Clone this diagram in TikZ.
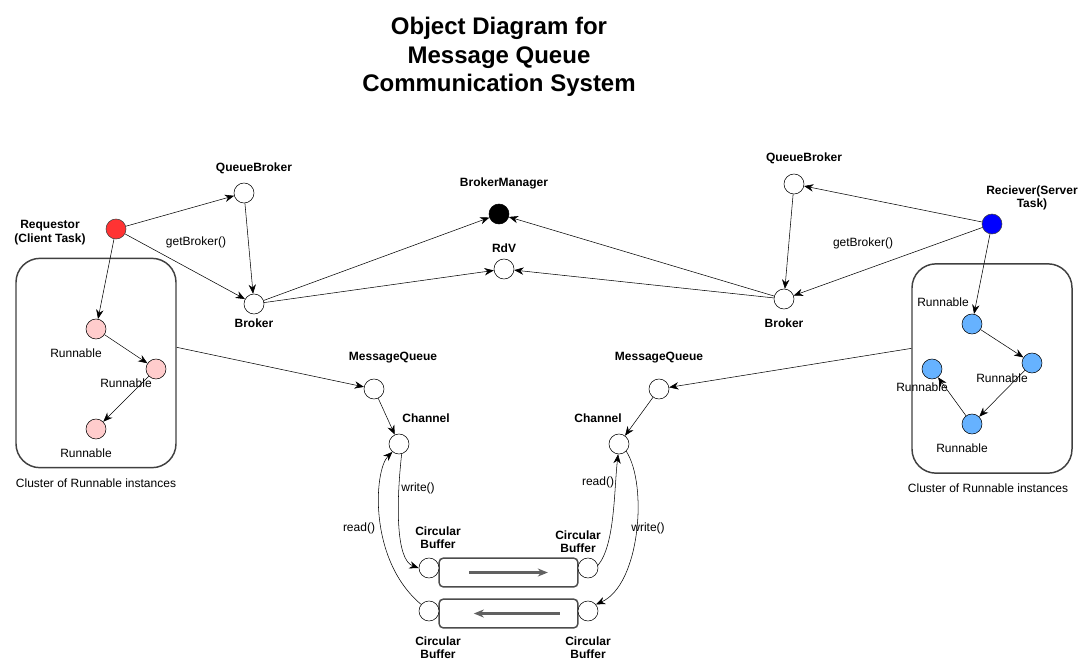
\documentclass[tikz,border=0pt]{standalone}
\usepackage{fontspec}
\setmainfont{Liberation Sans}
\usetikzlibrary{
  arrows.meta,
  positioning,  % relative placement
}
\definecolor{reqred}{HTML}{FF3333}
\definecolor{reqpink}{HTML}{FFCCCC}
\definecolor{srvblue}{HTML}{0000FF}
\definecolor{srvlight}{HTML}{66B2FF}
\def\mylblfont{\fontsize{9}{10}\selectfont}
\tikzset{
  x=0.75pt,
  y=-0.75pt,
  line width=0.9pt,
  >={Stealth[length=7pt,width=5.5pt]},
  my obj/.style={
    circle,
    draw,
    fill=white,
    minimum size=15pt,
    inner sep=0pt
  },
  my name/.style={
    font=\mylblfont\bfseries,
    align=center,
    inner sep=0pt
  },
  my text/.style={
    font=\mylblfont,
    align=center,
    inner sep=0pt
  },
  my cluster/.style={
    draw=black!75,
    line width=1.1pt,
    rounded corners=18pt,
    minimum width=120pt,
    minimum height=157pt
  },
  my buffer/.style={
    draw=black!70,
    line width=1.1pt,
    rounded corners=3pt,
    minimum width=104pt,
    minimum height=21.5pt
  },
  my flow/.style={
    draw=black!62,
    line width=1.6pt,
    -{Stealth[length=7.5pt,width=6pt]}
  }
}

\begin{document}
\begin{tikzpicture}
\useasboundingbox (0,0) rectangle (1084,665);
% title
\node[font=\fontsize{18}{21.5}\selectfont\bfseries,align=center] (title) at (499,57)
  {Object Diagram for\\Message Queue\\Communication System};

% clusters
\node[my cluster] (clL) at (96,363)    {};
\node[my cluster] (clR) at (992,368.5) {};
\node[my text] (clL-t) at (96,483)  {Cluster of Runnable instances};
\node[my text] (clR-t) at (988,488) {Cluster of Runnable instances};

% objects
\node[my obj,fill=reqred,draw=black!75]  (req) at (116,229) {};
\node[my obj]                            (qbL) at (244,193) {};
\node[my obj]                            (brL) at (254,304) {};
\node[my obj,fill=black]                 (bm)  at (499,214) {};
\node[my obj]                            (rdv) at (504,269) {};
\node[my obj]                            (qbR) at (794,184) {};
\node[my obj,fill=srvblue,draw=black!75] (rcv) at (992,224) {};
\node[my obj]                            (brR) at (784,299) {};
\node[my obj,fill=reqpink]  (rL1) at (96,329)   {};
\node[my obj,fill=reqpink]  (rL2) at (156,369)  {};
\node[my obj,fill=reqpink]  (rL3) at (96,429)   {};
\node[my obj,fill=srvlight] (rR1) at (972,324)  {};
\node[my obj,fill=srvlight] (rR2) at (1032,363) {};
\node[my obj,fill=srvlight] (rR3) at (972,424)  {};
\node[my obj,fill=srvlight] (rR4) at (932,369)  {};
\node[my obj] (mqL) at (374,389) {};
\node[my obj] (chL) at (399,444) {};
\node[my obj] (mqR) at (659,389) {};
\node[my obj] (chR) at (619,444) {};

% circular buffers
\node[my buffer] (bufT) at (508.5,572.5) {};
\node[my buffer] (bufB) at (508.5,613.5) {};
\node[my obj] (cbTL) at (429,568) {};
\node[my obj] (cbTR) at (588,568) {};
\node[my obj] (cbBL) at (429,611) {};
\node[my obj] (cbBR) at (588,611) {};
\draw[my flow] ([xshift=-29.5pt]bufT.center) -- ([xshift=29.5pt]bufT.center);
\draw[my flow] ([xshift=38.5pt]bufB.center) -- ([xshift=-26pt]bufB.center);

% names
\node[my name] (req-t) at (50,232.5) {Requestor\\(Client Task)};
\node[my name] (qbL-t) at (254,168)  {QueueBroker};
\node[my name] (brL-t) at (254,323)  {Broker};
\node[my name] (bm-t)  at (504,183)  {BrokerManager};
\node[my name] (rdv-t) at (504,248)  {RdV};
\node[my name] (qbR-t) at (804,158)  {QueueBroker};
\node[my name] (rcv-t) at (1032,198) {Reciever(Server\\Task)};
\node[my name] (brR-t) at (784,323)  {Broker};
\node[my name] (mqL-t) at (393,358)  {MessageQueue};
\node[my name] (chL-t) at (426,418)  {Channel};
\node[my name] (mqR-t) at (659,358)  {MessageQueue};
\node[my name] (chR-t) at (598,418)  {Channel};
\node[my name] (cbTL-t) at (438,537.5) {Circular\\Buffer};
\node[my name] (cbTR-t) at (578,541.5) {Circular\\Buffer};
\node[my name] (cbBL-t) at (438,648)   {Circular\\Buffer};
\node[my name] (cbBR-t) at (588,648)   {Circular\\Buffer};
\node[my text] (rL1-t) at (76,353)   {Runnable};
\node[my text] (rL2-t) at (126,383)  {Runnable};
\node[my text] (rL3-t) at (86,453)   {Runnable};
\node[my text] (rR1-t) at (943,302)  {Runnable};
\node[my text] (rR2-t) at (1002,378) {Runnable};
\node[my text] (rR4-t) at (922,387)  {Runnable};
\node[my text] (rR3-t) at (962,448)  {Runnable};

% links
\path[->] (req)  edge (qbL)
          (req)  edge (brL)
          (req)  edge (rL1)
          (qbL)  edge (brL)
          (brL)  edge (bm)
          (brL)  edge (rdv)
          (brR)  edge (bm)
          (brR)  edge (rdv)
          (rcv)  edge (qbR)
          (rcv)  edge (brR)
          (qbR)  edge (brR)
          (rcv)  edge (rR1)
          (rL1)  edge (rL2)
          (rL2)  edge (rL3)
          (rR1)  edge (rR2)
          (rR2)  edge (rR3)
          (rR3)  edge (rR4)
          (clL.11)  edge (mqL)
          (clR.166) edge (mqR)
          (mqL)  edge (chL)
          (mqR)  edge (chR);
\node[my text] (gbL) at (196,242) {getBroker()};
\node[my text] (gbR) at (863,243) {getBroker()};

% channel <-> buffers
\draw[->] (chL.-75) .. controls (396,505) and (396,560) .. (cbTL.west);
\draw[->] (cbBL.140) .. controls (368,560) and (374,470) .. (chL.-130);
\draw[->] (cbTR.15) .. controls (615,545) and (614,490) .. (chR.-95);
\draw[->] (chR.-45) .. controls (648,485) and (640,585) .. (cbBR.40);
\node[my text] (wrL) at (418,488) {write()};
\node[my text] (rdL) at (359,528) {read()};
\node[my text] (rdR) at (598,482) {read()};
\node[my text] (wrR) at (648,528) {write()};
\end{tikzpicture}
\end{document}
